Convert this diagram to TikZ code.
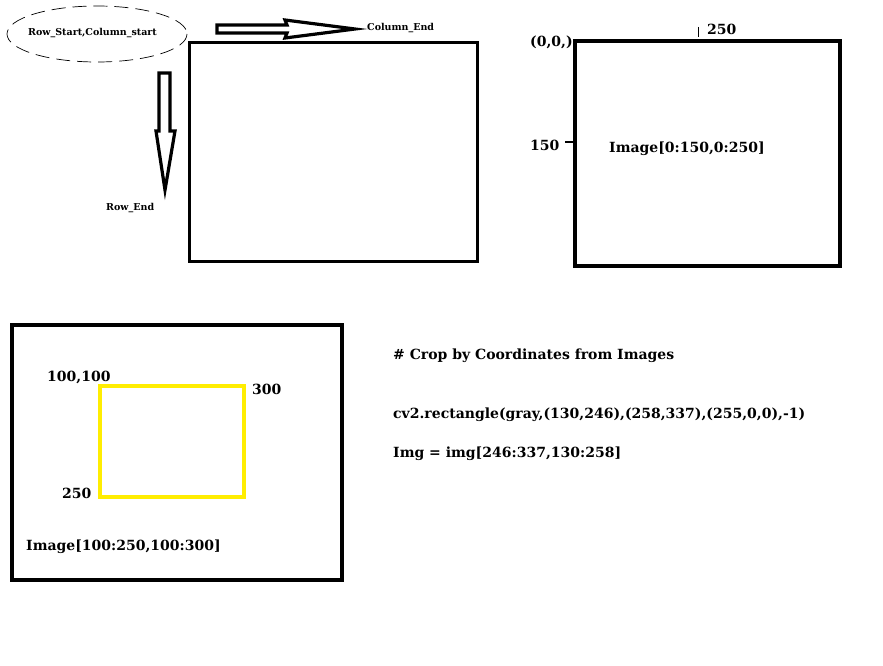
\documentclass[tikz,border=0pt]{standalone}
\usepackage{fontspec}
\setmainfont{DejaVu Serif}
\begin{document}
\begin{tikzpicture}[x=1pt,y=-1pt,
  frame/.style={draw=black,line width=4pt},
  yframe/.style={draw=yellow!95!orange,line width=4.5pt},
  hollow/.style={draw=black,line width=3.2pt,line join=miter,fill=white},
  big/.style={font=\bfseries\fontsize{14}{17}\selectfont,inner sep=0pt,anchor=base west},
  small/.style={font=\bfseries\fontsize{9.5}{11}\selectfont,inner sep=0pt,anchor=base west}]
\useasboundingbox[fill=white] (0,0) rectangle (883,666);
% top-left
\draw[frame,line width=3pt] (189,43) rectangle (477,261);
\draw[dashed,dash pattern=on 14pt off 7pt,line width=0.7pt] (97,34) ellipse [x radius=90,y radius=28];
\node[small] (rs) at (28,36) {Row\_Start,Column\_start};
\draw[hollow] (217,25) -- (287,25) -- (285,20) -- (355,29) -- (285,38) -- (287,33) -- (217,33) -- cycle;
\node[small] (ce) at (367,31) {Column\_End};
\draw[hollow] (159,73) -- (170,73) -- (170,131) -- (175,131) -- (165,190) -- (156,131) -- (159,131) -- cycle;
\node[small] (re) at (106,210) {Row\_End};
% top-right
\draw[frame] (575,41) rectangle (840,266);
\node[big] (o) at (530,47) {(0,0,)};
\node[big] (c250) at (707,35) {250};
\draw[line width=1pt] (698,27) -- (698,37);
\node[big] (r150) at (530,150) {150};
\draw[line width=1pt] (565,142) -- (575,142);
\node[big] (img1) at (609,153) {Image[0:150,0:250]};
% bottom-left
\draw[frame] (12,325) rectangle (342,580);
\draw[yframe] (100,386) rectangle (244,497);
\node[big] (a) at (47,381) {100,100};
\node[big] (b) at (252,394) {300};
\node[big] (c) at (62,498) {250};
\node[big] (img2) at (26,550) {Image[100:250,100:300]};
% text
\node[big] (t1) at (393,359) {\# Crop by Coordinates from Images};
\node[big] (t2) at (393,418) {cv2.rectangle(gray,(130,246),(258,337),(255,0,0),-1)};
\node[big] (t3) at (393,457) {Img = img[246:337,130:258]};
\end{tikzpicture}
\end{document}
